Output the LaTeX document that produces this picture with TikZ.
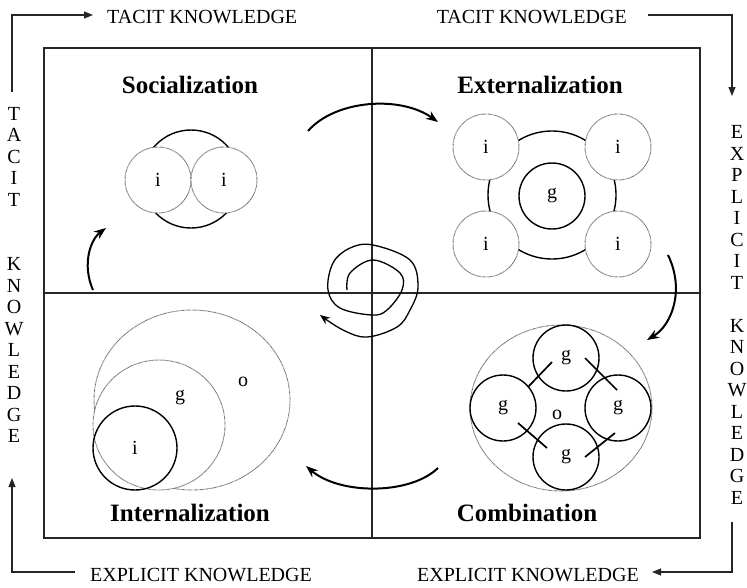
\documentclass[tikz,border=0pt]{standalone}
\usepackage{fontspec}
\setmainfont{Liberation Serif}
\usetikzlibrary{arrows.meta,shapes.geometric}
\begin{document}
\begin{tikzpicture}[x=1pt,y=-1pt,
  txt/.style={font=\fontsize{20}{21.5}\selectfont, inner sep=0pt},
  ttl/.style={font=\fontsize{25}{28}\selectfont\bfseries, inner sep=0pt},
  frame/.style={line width=1.3pt, draw=black!85},
  flow/.style={line width=1.1pt, draw=black!85, -{Triangle[length=9pt,width=7pt]}},
  turn/.style={line width=2pt, -{Stealth[length=12pt,width=9pt]}},
  dotc/.style={draw=black!65, line width=0.9pt, dash pattern=on 0.6pt off 0.6pt,
    fill=white, circle, minimum size=66pt, inner sep=0pt, font=\fontsize{20}{20}\selectfont},
  dote/.style={draw=black!65, line width=0.9pt, dash pattern=on 0.6pt off 0.6pt,
    fill=white, ellipse, inner sep=0pt},
  solc/.style={draw=black, line width=1.4pt, circle, minimum size=66pt, inner sep=0pt,
    font=\fontsize{20}{20}\selectfont},
  bond/.style={line width=1.7pt},
  lbl/.style={font=\fontsize{20}{20}\selectfont, inner sep=0pt},
]
\useasboundingbox (0,0) rectangle (747,587);

% main frame and quadrant dividers
\draw[frame] (44,48) rectangle (700,538);
\coordinate (vt) at (372,48);  \coordinate (vb) at (372,538);
\coordinate (hl) at (44,293);  \coordinate (hr) at (700,293);
\draw[frame] (vt) -- (vb);
\draw[frame] (hl) -- (hr);

% outer labels
\node[txt, anchor=west] (tk1) at (107,17) {TACIT KNOWLEDGE};
\node[txt, anchor=east] (tk2) at (627,17) {TACIT KNOWLEDGE};
\node[txt, anchor=west] (ek1) at (90,575) {EXPLICIT KNOWLEDGE};
\node[txt, anchor=east] (ek2) at (639,575) {EXPLICIT KNOWLEDGE};
\node[txt, align=center] (tkv) at (14,275)
  {T\\A\\C\\I\\T\\[43pt]K\\N\\O\\W\\L\\E\\D\\G\\E};
\node[txt, align=center] (ekv) at (737,315)
  {E\\X\\P\\L\\I\\C\\I\\T\\[0pt]\\K\\N\\O\\W\\L\\E\\D\\G\\E};

% outer flow arrows
\coordinate (a1s) at (12,92);   \coordinate (a1e) at (93,15);
\coordinate (a2s) at (648,15);  \coordinate (a2e) at (732,96);
\coordinate (a3s) at (732,522); \coordinate (a3e) at (652,572);
\coordinate (a4s) at (75,572);  \coordinate (a4e) at (12,478);
\draw[flow] (a1s) |- (a1e);
\draw[flow] (a2s) -| (a2e);
\draw[flow] (a3s) |- (a3e);
\draw[flow] (a4s) -| (a4e);

% quadrant titles
\node[ttl] (soc) at (190,85) {Socialization};
\node[ttl] (ext) at (540,85) {Externalization};
\node[ttl] (int) at (190,513) {Internalization};
\node[ttl] (com) at (527,513) {Combination};

% socialization
\node[solc, minimum size=98pt] (sbig) at (191,179) {};
\node[dotc] (s1) at (158,180) {i};
\node[dotc] (s2) at (224,180) {i};

% externalization
\node[solc, minimum size=128pt] (ebig) at (552,195) {};
\node[dotc] (e1) at (486,147) {i};
\node[dotc] (e2) at (618,147) {i};
\node[dotc] (e3) at (486,244) {i};
\node[dotc] (e4) at (618,244) {i};
\node[solc] (eg) at (552,196) {g};

% internalization
\node[dote, minimum width=196pt, minimum height=180pt] (io) at (192,400) {};
\node[dote, minimum width=132pt, minimum height=130pt] (ig) at (159,425) {};
\node[solc, minimum size=84pt] (ii) at (135,448) {i};
\node[lbl] (iol) at (243,382) {o};
\node[lbl] (igl) at (180,398) {g};

% combination
\node[dote, minimum width=182pt, minimum height=166pt] (co) at (561,408) {};
\node[lbl] (col) at (557,415) {o};
\node[solc] (g1) at (566,358) {g};
\node[solc] (g2) at (503,408) {g};
\node[solc] (g3) at (618,408) {g};
\node[solc] (g4) at (566,457) {g};
\coordinate (b1a) at (528,387); \coordinate (b1b) at (552,362);
\coordinate (b2a) at (585,358); \coordinate (b2b) at (617,390);
\coordinate (b3a) at (518,423); \coordinate (b3b) at (547,448);
\coordinate (b4a) at (585,457); \coordinate (b4b) at (615,433);
\draw[bond] (b1a) -- (b1b);
\draw[bond] (b2a) -- (b2b);
\draw[bond] (b3a) -- (b3b);
\draw[bond] (b4a) -- (b4b);

% cycle arrows between quadrants
\coordinate (t1) at (308,131);  \coordinate (t2) at (438,122);
\coordinate (r1) at (668,255);  \coordinate (r2) at (647,340);
\coordinate (d1) at (438,468);  \coordinate (d2) at (306,466);
\coordinate (l1) at (93,290);   \coordinate (l2) at (106,228);
\draw[turn] (t1) .. controls (335,100) and (400,95) .. (t2);
\draw[turn] (r1) .. controls (685,290) and (672,325) .. (r2);
\draw[turn] (d1) .. controls (410,495) and (340,495) .. (d2);
\draw[turn] (l1) .. controls (82,265) and (90,240) .. (l2);

% central spiral
\draw[line width=1.3pt, -{Stealth[length=10pt,width=8pt]}]
  plot[smooth, tension=0.6] coordinates {
    (347,290) (350,273) (373,260) (400,273) (402,290) (387,310) (372,315)
    (340,308) (328,290) (333,263) (350,248) (373,245) (410,260) (418,287)
    (410,310) (397,327) (367,337) (343,330) (320,315)};
\end{tikzpicture}
\end{document}
